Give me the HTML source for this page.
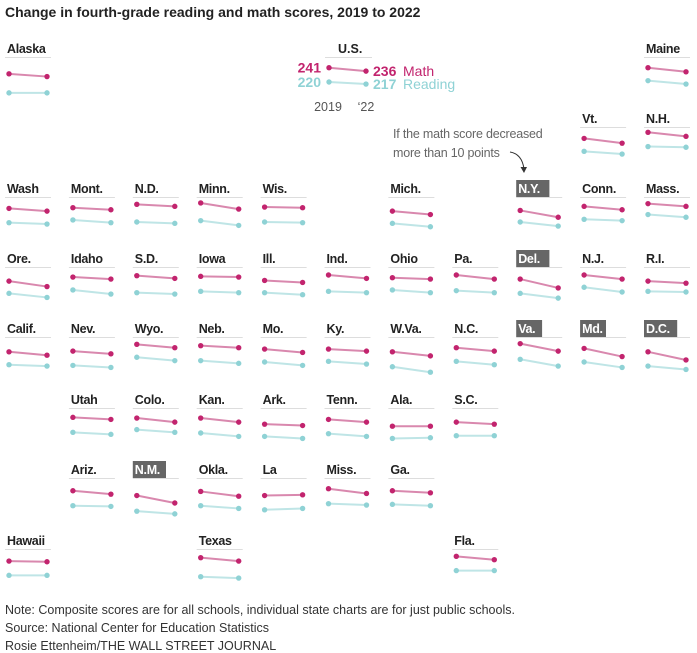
<!DOCTYPE html>
<html><head><meta charset="utf-8">
<style>
body{margin:0;background:#fff;width:697px;height:653px;overflow:hidden;font-family:"Liberation Sans",sans-serif}
svg{display:block}
</style></head>
<body>
<svg id="c" width="697" height="653">
<text x="5" y="17" font-size="14" font-weight="bold" fill="#222">Change in fourth-grade reading and math scores, 2019 to 2022</text>
<g fill="#666" font-size="12.5" letter-spacing="-0.2">
<text x="393" y="138">If the math score decreased</text>
<text x="393" y="157">more than 10 points</text>
</g>
<path d="M510 152 Q522 154 524 169" fill="none" stroke="#333" stroke-width="1"/>
<path d="M520.5 167 L524 173 L527 167 Z" fill="#333"/>
<g fill="#333" font-size="12.5">
<text x="5" y="614">Note: Composite scores are for all schools, individual state charts are for just public schools.</text>
<text x="5" y="632">Source: National Center for Education Statistics</text>
<text x="5" y="650">Rosie Ettenheim/THE WALL STREET JOURNAL</text>
</g>
<g id="tiles"></g>
</svg>
<script>
const states=["Alaska","Maine","Vt.","N.H.","Wash","Mont.","N.D.","Minn.","Wis.","Mich.","N.Y.","Conn.","Mass.","Ore.","Idaho","S.D.","Iowa","Ill.","Ind.","Ohio","Pa.","Del.","N.J.","R.I.","Calif.","Nev.","Wyo.","Neb.","Mo.","Ky.","W.Va.","N.C.","Va.","Md.","D.C.","Utah","Colo.","Kan.","Ark.","Tenn.","Ala.","S.C.","Ariz.","N.M.","Okla.","La","Miss.","Ga.","Hawaii","Texas","Fla."];
const cols=[0,10,9,10,0,1,2,3,4,6,8,9,10,0,1,2,3,4,5,6,7,8,9,10,0,1,2,3,4,5,6,7,8,9,10,1,2,3,4,5,6,7,1,2,3,4,5,6,0,3,7];
const rows=[0,0,1,1,2,2,2,2,2,2,2,2,2,3,3,3,3,3,3,3,3,3,3,3,4,4,4,4,4,4,4,4,4,4,4,5,5,5,5,5,5,5,6,6,6,6,6,6,7,7,7];
const math2019=[232,241,240,249,240,241,246,248,242,236,237,243,247,236,242,244,243,237,245,241,245,239,245,236,235,236,246,244,239,239,235,241,247,240,235,243,242,242,233,240,230,236,238,231,237,231,241,238,239,244,246];
const math2022=[228,235,233,243,236,238,243,239,241,231,227,238,243,228,239,240,242,234,240,239,239,226,239,233,230,232,241,241,234,236,229,236,236,228,223,240,236,236,231,236,230,233,233,220,230,232,234,235,238,239,241];
const read2019=[204,222,221,228,219,223,220,222,220,218,220,224,231,218,223,219,221,219,221,223,222,218,227,221,216,215,227,222,220,221,213,221,224,220,214,221,225,220,215,219,212,216,216,208,216,210,219,218,218,216,225];
const read2022=[204,217,217,227,217,219,218,215,219,213,214,222,227,212,217,217,219,216,219,219,219,211,220,220,214,212,222,218,215,217,205,216,214,212,209,218,221,215,212,215,213,216,215,204,212,212,217,216,218,214,225];
const highlighted=["N.Y.","Del.","Va.","Md.","D.C.","N.M."];
const usValues=[241,236,220,217];
const rowY=[48,118,188,258,328,399,469,540];
const xCol=c=>6+c*63.9;
const yVal=(r,v)=>rowY[r]+(270-v)*0.68;
const NS="http://www.w3.org/2000/svg";
const g=document.getElementById('tiles');
function mk(tag,attrs,parent){const e=document.createElementNS(NS,tag);for(const k in attrs)e.setAttribute(k,attrs[k]);parent.appendChild(e);return e;}
function slope(parent,x1,x2,ya,yb,line,dot,name){
  const l=mk('line',{x1:x1,x2:x2,y1:ya,y2:yb,stroke:line,'stroke-width':2},parent);
  
  
  const a=mk('circle',{cx:x1,cy:ya,r:2.7,fill:dot},parent);
  
  
  const b=mk('circle',{cx:x2,cy:yb,r:2.7,fill:dot},parent);
  
  
}
states.forEach((s,i)=>{
  const x=xCol(cols[i]),r=rows[i],y=rowY[r];
  const t=mk('g',{},g);
  
  
  const hl=highlighted.includes(s);
  if(hl){const bg=mk('rect',{x:x-1,y:y-8,width:s.length*7.3+4,height:17,fill:'#666'},t);
    
    }
  const lb=mk('text',{x:x+1,y:y+5,'font-size':12.5,'font-weight':'bold',fill:hl?'#fff':'#222','letter-spacing':'-0.3'},t);
  lb.textContent=s;
  
  
  const ul=mk('line',{x1:x-1,x2:x+45,y1:y+9.5,y2:y+9.5,stroke:'#ddd','stroke-width':1},t);
  
  
  slope(t,x+3,x+41,yVal(r,math2019[i]),yVal(r,math2022[i]),'#d988ae','#c2246e','math');
  slope(t,x+3,x+41,yVal(r,read2019[i]),yVal(r,read2022[i]),'#bfe5e6','#8fd2d5','reading');
});
const u=mk('g',{},g);


const ux=325;
const ut=mk('text',{x:ux+13,y:53,'font-size':12.5,'font-weight':'bold',fill:'#222'},u);ut.textContent='U.S.';


const uu=mk('line',{x1:ux,x2:ux+47,y1:57.5,y2:57.5,stroke:'#ddd'},u);


const m1=yVal(0,usValues[0]),m2=yVal(0,usValues[1]),r1=yVal(0,usValues[2]),r2=yVal(0,usValues[3]);
slope(u,ux+4,ux+41,m1,m2,'#d988ae','#c2246e','us-math');
slope(u,ux+4,ux+41,r1,r2,'#bfe5e6','#8fd2d5','us-reading');
const lab=[[ux-4,m1+5,'end','#c2246e',usValues[0]+'','us-math-2019-value'],[ux+48,m2+5,'start','#c2246e',usValues[1]+'','us-math-2022-value'],[ux-4,r1+5,'end','#8fd2d5',usValues[2]+'','us-reading-2019-value'],[ux+48,r2+5,'start','#8fd2d5',usValues[3]+'','us-reading-2022-value']];
lab.forEach(a=>{const e=mk('text',{x:a[0],y:a[1],'text-anchor':a[2],fill:a[3],'font-size':14,'font-weight':'bold'},u);e.textContent=a[4];

});
const lm=mk('text',{x:ux+78,y:m2+5,fill:'#c2246e','font-size':14},u);lm.textContent='Math';


const lr=mk('text',{x:ux+78,y:r2+5,fill:'#8fd2d5','font-size':14},u);lr.textContent='Reading';


const y1=mk('text',{x:ux+3,y:111,'text-anchor':'middle',fill:'#555','font-size':12.5},u);y1.textContent='2019';


const y2=mk('text',{x:ux+41,y:111,'text-anchor':'middle',fill:'#555','font-size':12.5},u);y2.textContent='\u201822';


</script>
</body></html>
